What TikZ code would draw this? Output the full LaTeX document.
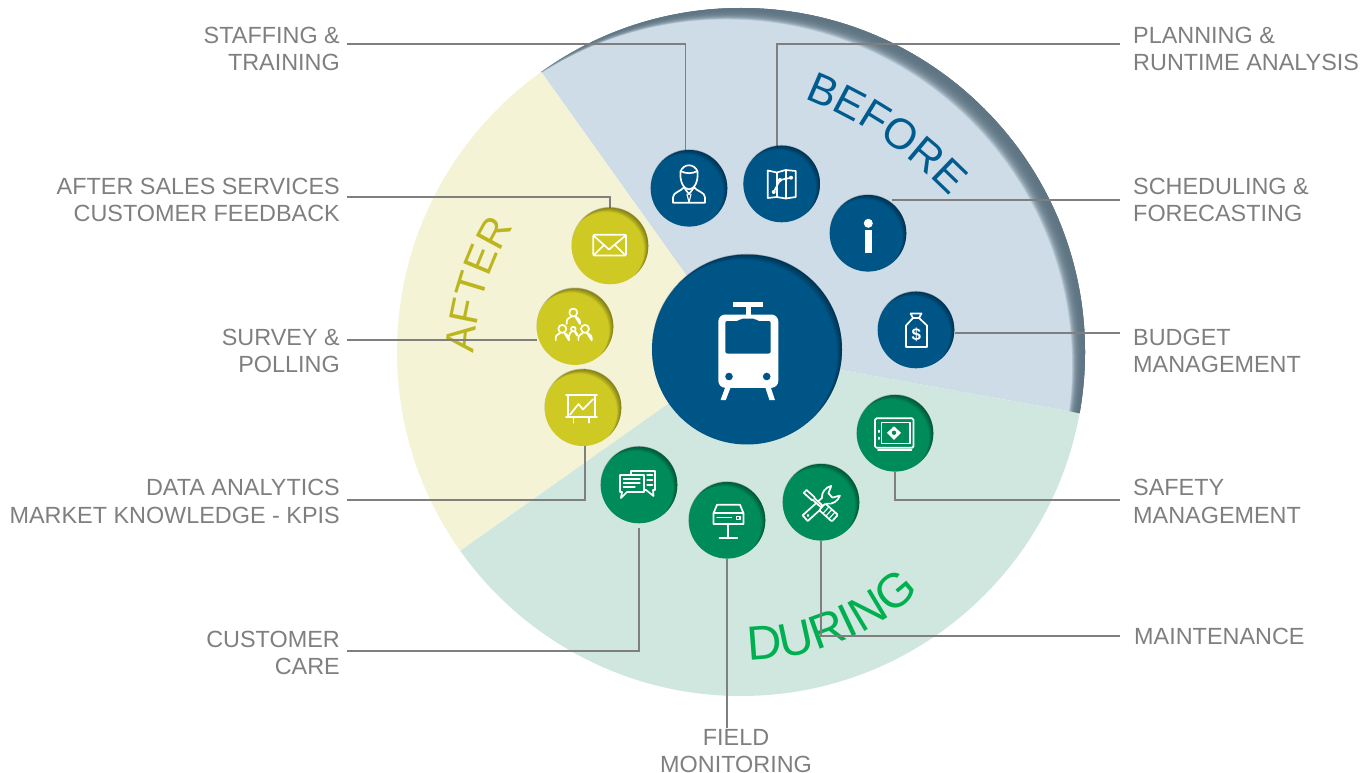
\documentclass[tikz,border=0pt]{standalone}
\usepackage{fontspec}
\usetikzlibrary{decorations.text}
\setmainfont{Liberation Sans}
\definecolor{txt}{HTML}{7F7F7F}
\definecolor{linec}{HTML}{7F7F7F}
\definecolor{secb}{HTML}{CDDCE7}
\definecolor{secy}{HTML}{F4F3D6}
\definecolor{secg}{HTML}{CFE7DF}
\definecolor{cb}{HTML}{005587}
\definecolor{cy}{HTML}{CFC923}
\definecolor{cg}{HTML}{008C5A}
\definecolor{tb}{HTML}{005B8E}
\definecolor{ty}{HTML}{BDB51F}
\definecolor{tg}{HTML}{00AF50}
\definecolor{rim}{HTML}{5D7381}
\tikzset{
  x=1pt,y=-1pt,
  llab/.style={font=\fontsize{23.4}{27.5}\selectfont,text=txt,align=right,anchor=east,inner xsep=7pt,inner ysep=0pt},
  rlab/.style={font=\fontsize{23.4}{27.5}\selectfont,text=txt,align=left,anchor=west,inner xsep=13pt,inner ysep=0pt},
  conn/.style={draw=linec,line width=1.2pt},
  bubble/.style={circle,inner sep=0pt,minimum size=76.6pt},
  ico/.style={draw=white,line width=1.7pt,line join=round,line cap=round},
}
% inner shadow of a disc: node name, radius, largest offset
\newcommand{\hollow}[3]{%
  \begin{scope}
    \clip (#1.center) circle (#2);
    \foreach \k in {1,...,8}{
      \fill[black,opacity=.055,even odd rule] (#1.center) circle (#2+6)
        ([shift={(-\k*#3/8,\k*#3/8)}]#1.center) circle (#2+.6-\k*.1);
    }
  \end{scope}}
\newcommand{\halo}[2]{%
  \fill[black,opacity=.2] ([shift={(-.2,-.8)}]#1.center) circle (#2);}
\newcommand{\manico}[3]{% small person: x y scale
  \begin{scope}[shift={(#1,#2)}]
    \draw[ico] (0,-5*#3) circle (4.2*#3);
    \draw[ico] (-7*#3,7*#3) -- (-7*#3,4.5*#3) .. controls (-7*#3,1*#3) and (-3*#3,.5*#3) .. (-2*#3,-.8*#3)
       (2*#3,-.8*#3) .. controls (3*#3,.5*#3) and (7*#3,1*#3) .. (7*#3,4.5*#3) -- (7*#3,7*#3) -- cycle;
  \end{scope}}
\begin{document}
\begin{tikzpicture}
\useasboundingbox (0,0) rectangle (1370,773);
\coordinate (O) at (741,352);
% sectors
\begin{scope}
  \clip (O) circle (344);
  \fill[secb] (O) -- (343,-206) -- (1417,-206) -- (1417,474) -- cycle;
  \fill[secg] (O) -- (1417,474) -- (1417,1100) -- (181,1100) -- (181,748) -- cycle;
  \fill[secy] (O) -- (181,748) -- (0,748) -- (0,-206) -- (343,-206) -- cycle;
  % rim: inner shadow of the blue sector only
  \clip (O) -- (343,-206) -- (1417,-206) -- (1417,474) -- cycle;
  \foreach \k in {6,...,20}{
    \fill[rim,opacity=.2,even odd rule] (O) circle (420)
      ([shift={(-.743*\k,.669*\k)}]O) circle (346);
  }
\end{scope}
% big words
\path[decorate,decoration={text along path,text align=center,
  text={|\fontsize{43}{43}\selectfont\color{tb}|BEFORE}}]
  (806,99) .. controls (855,118) and (905,150) .. (949,195);
\path[decorate,decoration={text along path,text align=center,
  text={|\fontsize{41}{41}\selectfont\color{ty}|AFTER}}]
  (474,354) .. controls (476,310) and (490,265) .. (514,226);
\path[decorate,decoration={text along path,text align=center,
  text={|\fontsize{48}{48}\selectfont\color{tg}|DURING}}]
  (744,660) .. controls (800,661) and (872,640) .. (922,588);
% labels
\node[llab] (l1) at (347,49) {STAFFING \&\\TRAINING};
\node[llab] (l2) at (347,200) {AFTER SALES SERVICES\\CUSTOMER FEEDBACK};
\node[llab] (l3) at (347,351) {SURVEY \&\\POLLING};
\node[llab] (l4) at (347,501.5) {DATA ANALYTICS\\MARKET KNOWLEDGE - KPIS};
\node[llab] (l5) at (347,653) {CUSTOMER\\CARE};
\node[font=\fontsize{23.4}{27.5}\selectfont,text=txt,align=center,inner sep=0pt] (l6) at (736,751) {FIELD\\MONITORING};
\node[rlab] (r1) at (1120,49) {PLANNING \&\\RUNTIME ANALYSIS};
\node[rlab] (r2) at (1120,200) {SCHEDULING \&\\FORECASTING};
\node[rlab] (r3) at (1120,351) {BUDGET\\MANAGEMENT};
\node[rlab] (r4) at (1120,501.5) {SAFETY\\MANAGEMENT};
\node[rlab] (r5) at (1121,636) {MAINTENANCE};
% discs
\foreach \n/\x/\y in {
  c1/689/188.3,c2/781.7/184,c3/868/233.3,c4/916/330,
  c5/610/246,c6/575/326.6,c7/583/407.7,
  c8/639/485,c9/727/520.3,c10/821/502.3,c11/895/433.3}{
  \node[bubble] (\n) at (\x,\y) {};
}
\node[circle,inner sep=0pt,minimum size=190pt] (hub) at (747,349.5) {};
% connectors
\draw[conn] ([yshift=5pt]l1.east) -| (c1.95);
\draw[conn] ([yshift=3pt]l2.east) -| (c5.90);
\draw[conn] ([yshift=11pt]l3.east) -- (c6.west |- 0,340);
\draw[conn] ([yshift=1.5pt]l4.east) -| (c7.87);
\draw[conn] ([yshift=2pt]l5.east) -| ([yshift=-4pt]c8.south);
\draw[conn] ([xshift=-9pt,yshift=.5pt]l6.north) -- (c9.south);
\draw[conn] ([yshift=5pt]r1.west) -| (c2.97);
\draw[conn] (r2.west) -- (c3.52 |- 0,200);
\draw[conn] ([yshift=18pt]r3.west) -- (c4.east |- 0,333);
\draw[conn] ([yshift=1.5pt]r4.west) -| (c11.270);
\draw[conn] ([xshift=-1pt]r5.west) -| (c10.270);
% draw discs over the lines
\foreach \n/\c in {c1/cb,c2/cb,c3/cb,c4/cb,c5/cy,c6/cy,c7/cy,c8/cg,c9/cg,c10/cg,c11/cg}{
  \halo{\n}{38.3}
  \fill[\c] (\n.center) circle (38.3);
  \hollow{\n}{38.3}{4}
}
\halo{hub}{95}
\fill[cb] (hub.center) circle (95);
\hollow{hub}{95}{5}
% hub train
\begin{scope}[shift={(hub.center)}]
  \fill[white] (-14.3,-47.7) rectangle (16.3,-42.7);
  \fill[white] (-1.3,-43) rectangle (4,-32);
  \fill[white,rounded corners=7] (-28.7,-35) rectangle (31.3,38.3);
  \fill[cb,rounded corners=2] (-21.7,-28.5) -- (-8,-28.5) -- (-6,-31) -- (8,-31) -- (10,-28.5) -- (23.7,-28.5) -- (23.7,4) -- (-21.7,4) -- cycle;
  \fill[cb] (-18,27) circle (3.8) (19.7,27) circle (3.8);
  \fill[white] (-21.5,37) -- (-16,37) -- (-21.3,50.7) -- (-26.5,50.7) -- cycle;
  \fill[white] (18,37) -- (23.5,37) -- (28,50.7) -- (22.5,50.7) -- cycle;
\end{scope}
% person with tie
\begin{scope}[shift={(c1.center)}]
  \draw[ico] (-8.5,-17) .. controls (-5,-25) and (5,-25) .. (8.5,-17) .. controls (9.5,-6) and (5,1) .. (0,1) .. controls (-5,1) and (-9.5,-6) .. (-8.5,-17) -- cycle;
  \draw[ico] (-8,-17) .. controls (-3,-14.5) and (3,-14.5) .. (8,-17);
  \draw[ico] (-16,14.5) -- (-16,9) .. controls (-16,4) and (-8,3) .. (-5,-1) -- (0,6) -- (5,-1) .. controls (8,3) and (16,4) .. (16,9) -- (16,14.5) -- cycle;
  \draw[ico,line width=1.1pt] (-2,6) -- (0,14) -- (2,6);
\end{scope}
% map
\begin{scope}[shift={(c2.center)}]
  \draw[ico] (-14,-13.5) -- (-5,-11.5) -- (4,-14) -- (14,-13) -- (14,13) -- (4,14.5) -- (-5,13) -- (-14,14) -- cycle;
  \draw[ico] (-5,-11.5) -- (-5,13) (4,-14) -- (4,14.5);
  \draw[ico] (-8,8) -- (-1.7,-4) -- (9.3,-6.3);
  \fill[white] (-8,8) circle (2) (-1.7,-4) circle (2) (9.3,-6.3) circle (2);
\end{scope}
% info
\begin{scope}[shift={(c3.center)}]
  \fill[white] (.3,-10) circle (4.5);
  \fill[white] (-3,-3.5) rectangle (3.7,20);
\end{scope}
% money bag
\begin{scope}[shift={(c4.center)}]
  \draw[ico] (-5.5,-16.5) -- (5.5,-16.5) -- (3,-12) -- (-3,-12) -- cycle;
  \draw[ico] (-3,-12) -- (-10,-4.5) -- (-10,17) -- (11,17) -- (11,-4.5) -- (3,-12);
  \node[text=white,font=\bfseries\fontsize{17}{17}\selectfont,inner sep=0pt] (dollar) at (.3,5) {\$};
\end{scope}
% envelope
\begin{scope}[shift={(c5.center)}]
  \draw[ico,rounded corners=1] (-16.7,-11.3) rectangle (16,9.5);
  \draw[ico] (-16,-10) -- (-1,3.5) -- (15,-10);
  \draw[ico] (-16,9) -- (-6,-1) (15,9) -- (5,-1);
\end{scope}
% group
\begin{scope}[shift={(c6.center)}]
  \manico{-1.7}{-9.3}{.95}
  \manico{-12.7}{7}{.95}
  \manico{10}{7}{.95}
  \manico{-1.7}{5.2}{.55}
\end{scope}
% presentation
\begin{scope}[shift={(c7.center)}]
  \draw[ico] (-17,-12.7) -- (14,-12.7);
  \draw[ico] (-15,-12.7) -- (-15,9) (12,-12.7) -- (12,9);
  \draw[ico] (-17,9) -- (14,9);
  \draw[ico] (-9.5,9) -- (-9.5,15) (6,9) -- (6,15);
  \draw[ico] (-13,7) -- (-4.5,-3.7) -- (0,1.7) -- (10,-8.5);
\end{scope}
% chat
\begin{scope}[shift={(c8.center)}]
  \draw[ico] (-8,-10) -- (-8,-14) -- (16,-14) -- (16,5) -- (14,5) -- (14.5,11) -- (7,5) -- (5,5);
  \draw[ico] (-19,-10) -- (5,-10) -- (5,7) -- (-12,7) -- (-18,13) -- (-17,7) -- (-19,7) -- cycle;
  \draw[ico,line width=1.2pt] (-15.5,-6) -- (1,-6) (-15.5,-2) -- (1,-2) (-15.5,2) -- (-4,2);
  \draw[ico,line width=1.2pt] (8,-10) -- (13.5,-10) (8,-5) -- (13.5,-5) (8,0) -- (13.5,0);
\end{scope}
% field device
\begin{scope}[shift={(c9.center)}]
  \draw[ico] (-10,-15.5) -- (13,-15.5) -- (16.5,-7) -- (16.5,3.7) -- (-13.5,3.7) -- (-13.5,-7) -- cycle;
  \draw[ico] (-13.5,-7) -- (16.5,-7);
  \draw[ico,line width=1.1pt] (-10,-3) -- (4.5,-3);
  \draw[ico,line width=1.1pt] (9.5,-3.5) rectangle (13,-1);
  \draw[ico] (1.3,3.7) -- (1.3,18);
  \draw[ico] (-7.5,18) -- (10.3,18);
\end{scope}
% tools
\begin{scope}[shift={(c10.center)},shift={(-1,2.5)}]
  \begin{scope}[rotate=42]
    \draw[ico,fill=cg] (-20,-3.8) -- (6,-3.8) .. controls (9,-8) and (16,-9.5) .. (21,-6.5) -- (14,-3) -- (14,3) -- (21,6.5) .. controls (16,9.5) and (9,8) .. (6,3.8) -- (-20,3.8) -- cycle;
    \fill[white] (-16,0) circle (1.5);
  \end{scope}
  \begin{scope}[rotate=-42]
    \draw[ico,fill=cg] (-20,-2) -- (-9,-2) -- (-9,-1.2) -- (2,-1.2) -- (2,1.2) -- (-9,1.2) -- (-9,2) -- (-20,2) -- cycle;
    \draw[ico,fill=cg,rounded corners=1] (3,-4.5) rectangle (20,4.5);
    \draw[ico,line width=1.1pt] (8,-4.5) -- (8,4.5) (12,-4.5) -- (12,4.5) (16,-4.5) -- (16,4.5);
  \end{scope}
\end{scope}
% safe
\begin{scope}[shift={(c11.center)}]
  \draw[ico,rounded corners=1.5] (-20,-15) rectangle (18.5,14.5);
  \draw[ico,line width=1.1pt] (-13.5,-11) rectangle (15,10.5);
  \draw[ico,line width=1.1pt] (-16,-3) -- (-16,-1) (-16,4) -- (-16,6);
  \draw[ico] (-17,16.5) -- (16.5,16.5);
  \fill[white] (-1,-7) -- (6,-.5) -- (-1,6.5) -- (-8,-.5) -- cycle;
  \fill[cg] (-1,-.5) circle (2.2);
\end{scope}
\end{tikzpicture}
\end{document}
